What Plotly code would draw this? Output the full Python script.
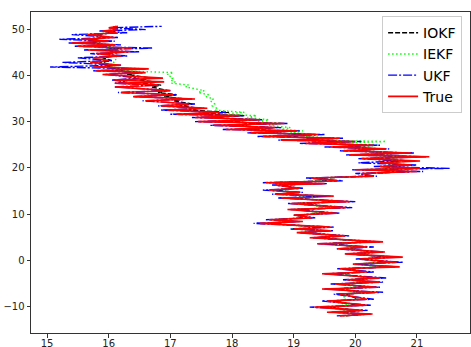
import plotly.graph_objects as go

# Shared y positions of the track samples
Y = [
    -12.0, -11.6, -11.2, -10.8, -10.1, -9.7, -8.8, -8.4, -7.3, -6.9,
    -6.2, -5.8, -5.1, -4.7, -4.2, -3.8, -2.9, -2.5, -1.8, -1.4,
    -0.8, -0.4, 0.3, 0.7, 1.4, 1.8, 2.5, 2.9, 3.6, 4.0,
    4.9, 5.3, 6.0, 6.4, 6.8, 7.2, 8.0, 8.4, 8.8, 9.2,
    9.8, 10.2, 11.0, 11.4, 12.3, 12.7, 13.5, 13.9, 14.3, 14.7,
    15.2, 15.6, 16.3, 16.6, 16.8, 17.2, 17.8, 18.2, 18.8, 19.2,
    19.6, 19.9, 20.3, 20.6, 21.1, 21.5, 22.0, 22.4, 22.8, 23.2,
    23.7, 24.1, 24.5, 24.9, 25.3, 25.7, 26.0, 26.4, 26.8, 27.2,
    27.6, 28.0, 28.3, 28.7, 29.2, 29.6, 30.0, 30.4, 30.9, 31.3,
    31.6, 32.0, 32.5, 32.9, 33.4, 33.8, 34.5, 34.9, 35.4, 35.8,
    36.3, 36.7, 37.5, 37.9, 38.3, 38.6, 39.0, 39.4, 40.2, 40.6,
    41.0, 41.4, 41.8, 42.2, 42.8, 43.2, 43.8, 44.2, 44.7, 45.1,
    45.5, 45.9, 46.3, 46.6, 47.0, 47.4, 47.8, 48.2, 48.8, 49.2,
    49.6, 49.9, 50.3, 50.6,
]

TRUE_X = [
    19.75, 20.28, 19.54, 20.12, 19.34, 20.19, 19.54, 20.19, 19.75, 20.35,
    19.46, 20.35, 19.67, 20.40, 19.86, 20.40, 19.46, 20.19, 19.75, 20.72,
    19.96, 20.67, 20.07, 20.77, 19.83, 20.48, 19.72, 20.19, 19.38, 20.45,
    19.26, 19.83, 19.05, 19.60, 19.00, 19.60, 18.45, 19.15, 18.60, 19.30,
    19.00, 19.70, 18.90, 19.85, 18.95, 19.90, 18.80, 19.65, 18.70, 19.10,
    18.60, 19.10, 18.70, 19.50, 18.55, 19.70, 19.30, 20.30, 20.10, 21.00,
    20.00, 21.05, 20.40, 20.90, 20.40, 21.05, 20.10, 21.20, 19.90, 20.90,
    19.80, 20.50, 19.60, 20.30, 19.20, 20.00, 18.80, 19.75, 18.50, 19.40,
    18.30, 19.05, 17.90, 18.70, 17.70, 18.85, 17.45, 18.45, 17.40, 18.13,
    17.10, 17.80, 16.95, 17.60, 16.85, 17.30, 16.60, 17.40, 16.40, 17.05,
    16.20, 17.00, 16.10, 16.80, 16.10, 16.90, 16.07, 16.88, 15.90, 16.60,
    15.80, 16.65, 15.75, 16.20, 15.70, 16.00, 15.75, 16.20, 15.80, 16.35,
    15.66, 16.38, 15.50, 16.10, 15.40, 16.00, 15.55, 16.10, 15.66, 16.13,
    15.90, 16.15, 16.00, 16.15,
]

IOKF_X = [
    19.85, 20.15, 19.70, 20.05, 19.55, 20.05, 19.65, 20.05, 19.85, 20.20,
    19.65, 20.20, 19.80, 20.25, 19.95, 20.30, 19.65, 20.10, 19.90, 20.50,
    20.05, 20.50, 20.10, 20.55, 19.95, 20.35, 19.85, 20.10, 19.55, 20.25,
    19.40, 19.75, 19.20, 19.50, 19.10, 19.45, 18.60, 19.00, 18.70, 19.15,
    19.10, 19.55, 19.05, 19.70, 19.10, 19.75, 18.95, 19.50, 18.80, 19.05,
    18.70, 19.00, 18.85, 19.35, 18.70, 19.55, 19.45, 20.15, 20.20, 20.85,
    20.15, 20.90, 20.45, 20.80, 20.45, 20.90, 20.25, 21.00, 20.05, 20.75,
    19.95, 20.40, 19.75, 20.20, 19.40, 19.90, 19.00, 19.65, 18.70, 19.30,
    18.45, 18.95, 18.15, 18.65, 17.95, 18.60, 17.75, 18.40, 17.65, 18.20,
    17.45, 17.95, 17.30, 17.45, 17.15, 17.35, 17.05, 17.25, 16.90, 17.10,
    16.80, 16.95, 16.70, 16.85, 16.55, 16.75, 16.50, 16.70, 16.30, 16.55,
    16.10, 16.40, 15.90, 16.10, 15.85, 16.05, 15.90, 16.10, 15.95, 16.20,
    15.85, 16.20, 15.70, 16.00, 15.65, 15.90, 15.70, 15.95, 15.80, 16.05,
    15.95, 16.10, 16.05, 16.12,
]

IEKF_X = [
    19.80, 20.10, 19.65, 19.95, 19.50, 19.90, 19.62, 19.85, 19.78, 20.05,
    19.75, 20.00, 19.82, 20.10, 19.90, 20.20, 19.70, 20.05, 19.85, 20.40,
    20.00, 20.45, 20.05, 20.50, 19.95, 20.30, 19.85, 20.10, 19.55, 20.20,
    19.40, 19.70, 19.10, 19.45, 18.95, 19.40, 18.55, 18.95, 18.65, 19.10,
    19.00, 19.50, 19.00, 19.65, 19.00, 19.70, 18.90, 19.45, 18.75, 19.00,
    18.65, 19.00, 18.80, 19.30, 18.65, 19.50, 19.40, 20.10, 20.15, 20.80,
    20.10, 20.85, 20.45, 20.75, 20.40, 20.85, 20.20, 20.95, 20.05, 20.70,
    20.10, 20.35, 20.05, 20.35, 19.70, 20.50, 19.40, 19.70, 19.20, 19.40,
    18.95, 19.15, 18.80, 18.95, 18.60, 18.80, 18.40, 18.60, 18.25, 18.40,
    17.80, 18.20, 17.72, 17.75, 17.68, 17.72, 17.65, 17.70, 17.58, 17.62,
    17.45, 17.55, 17.25, 17.30, 17.02, 17.08, 17.00, 17.04, 16.95, 17.05,
    16.15, 16.60, 16.02, 16.08, 16.08, 16.12, 16.10, 16.14, 16.12, 16.18,
    16.05, 16.15, 15.90, 16.00, 15.80, 15.90, 15.70, 15.80, 15.80, 15.95,
    16.00, 16.10, 16.10, 16.15,
]

UKF_X = [
    19.70, 20.25, 19.60, 20.20, 19.26, 20.25, 19.45, 20.30, 19.65, 20.45,
    19.50, 20.40, 19.60, 20.45, 19.80, 20.50, 19.50, 20.30, 19.70, 20.65,
    20.00, 20.77, 20.00, 20.70, 19.85, 20.45, 19.70, 20.30, 19.40, 20.40,
    19.30, 19.90, 19.10, 19.65, 18.95, 19.65, 18.35, 19.10, 18.55, 19.35,
    19.00, 19.75, 18.95, 19.95, 18.90, 20.00, 18.75, 19.60, 18.65, 19.15,
    18.50, 19.15, 18.65, 19.55, 18.50, 19.80, 19.20, 20.35, 20.00, 21.10,
    19.95, 21.53, 20.30, 21.00, 20.05, 20.70, 20.05, 21.15, 19.85, 20.95,
    19.75, 20.55, 19.50, 20.40, 19.10, 20.10, 18.75, 19.80, 18.40, 19.50,
    18.25, 19.10, 17.85, 18.80, 17.65, 18.90, 17.40, 18.50, 17.35, 18.20,
    17.00, 17.90, 16.85, 17.55, 16.80, 17.40, 16.55, 17.35, 16.40, 17.10,
    16.15, 17.00, 16.10, 16.80, 16.10, 16.30, 16.05, 16.50, 15.95, 16.55,
    15.75, 16.60, 15.05, 16.20, 15.25, 16.05, 15.50, 16.30, 15.70, 16.50,
    15.60, 16.72, 15.45, 16.20, 15.35, 16.10, 15.20, 16.15, 15.40, 16.30,
    15.85, 16.60, 16.00, 16.86,
]

X_RANGE = [14.74, 21.86]
Y_RANGE = [-15.7, 53.7]
X_TICKS = [15, 16, 17, 18, 19, 20, 21]
Y_TICKS = [-10, 0, 10, 20, 30, 40, 50]

fig = go.Figure()
fig.add_trace(go.Scatter(x=IOKF_X, y=Y, mode="lines", name="IOKF",
                         line=dict(color="black", width=1.4, dash="5px,2px")))
fig.add_trace(go.Scatter(x=IEKF_X, y=Y, mode="lines", name="IEKF",
                         line=dict(color="#00ff00", width=1.4, dash="1.5px,2.5px")))
fig.add_trace(go.Scatter(x=UKF_X, y=Y, mode="lines", name="UKF",
                         line=dict(color="blue", width=1.4, dash="9px,2px,2px,2px")))
fig.add_trace(go.Scatter(x=TRUE_X, y=Y, mode="lines", name="True",
                         line=dict(color="red", width=1.6)))

axis_common = dict(
    showgrid=False, zeroline=False, showline=True, mirror=True,
    linecolor="#333333", linewidth=1, ticks="outside", ticklen=3.5,
    tickwidth=1, tickcolor="#333333", automargin=False,
    tickfont=dict(family="DejaVu Sans", size=10, color="#222222"),
)
fig.update_xaxes(range=X_RANGE, tickvals=X_TICKS, ticklabelstandoff=-3,
                 **axis_common)
fig.update_yaxes(range=Y_RANGE, tickvals=Y_TICKS, **axis_common)

fig.update_layout(
    width=471, height=347,
    margin=dict(l=31, r=1, t=12, b=14),
    plot_bgcolor="white", paper_bgcolor="white",
    legend=dict(
        x=0.982, y=0.987, xanchor="right", yanchor="top",
        bgcolor="rgba(255,255,255,0.8)", bordercolor="#cccccc", borderwidth=1,
        font=dict(family="DejaVu Sans", size=14, color="black"),
        tracegroupgap=0,
    ),
    showlegend=True,
)

# remove the browser's default 8px body margin so the figure fills the window
fig.write_html("out.html", config={"displayModeBar": False},
               post_script="document.body.style.margin='0px';")
